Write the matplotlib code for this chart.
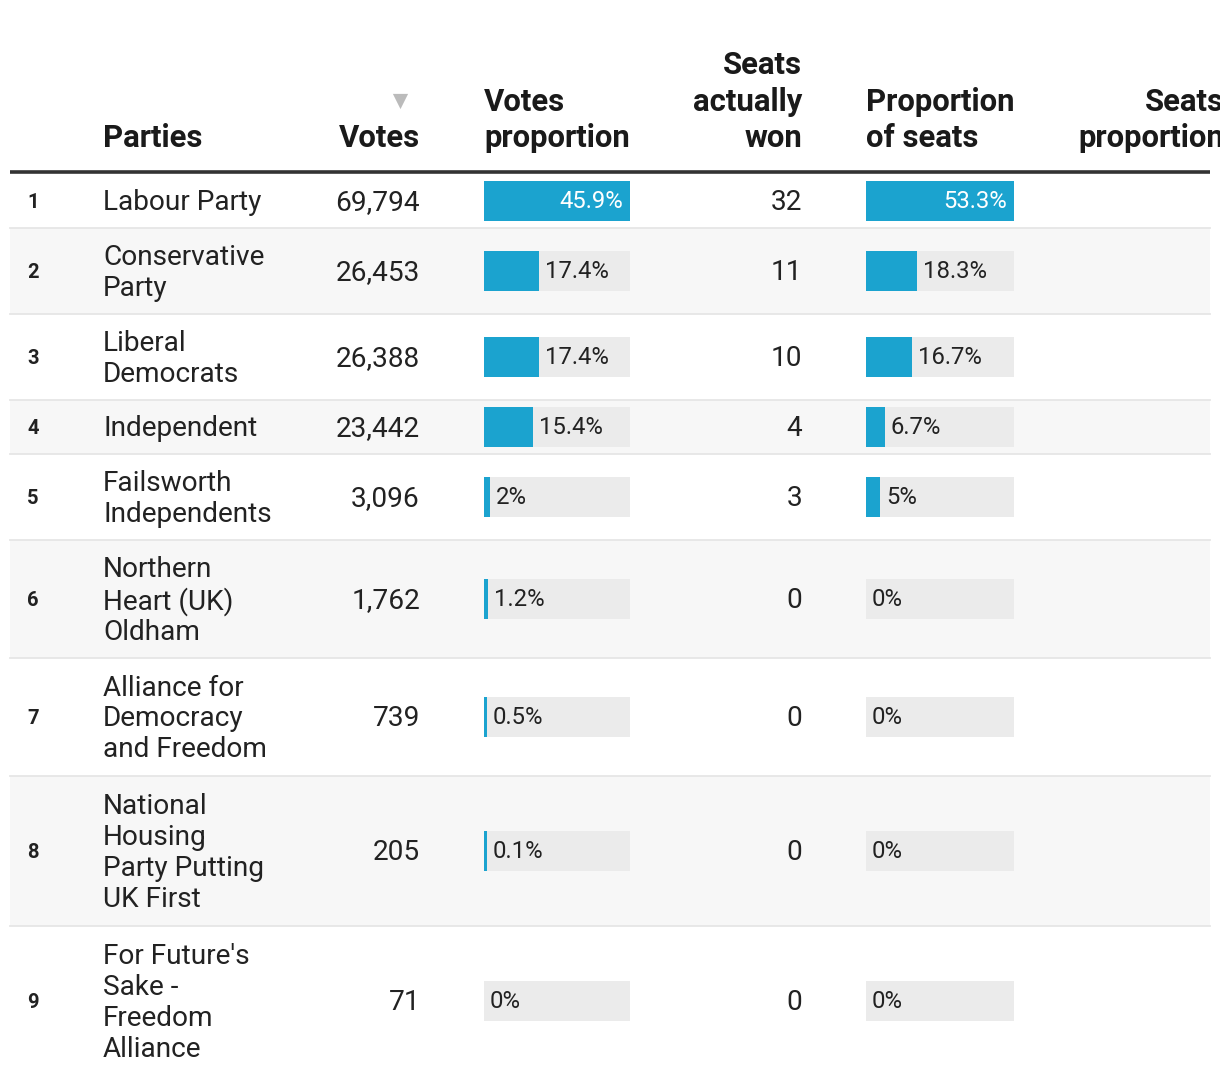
import numpy as np
import matplotlib.pyplot as plt
from matplotlib.patches import Rectangle

plt.rcParams['font.family'] = ['Roboto', 'DejaVu Sans']

# data
ranks = [1, 2, 3, 4, 5, 6, 7, 8, 9]
parties = ['Labour Party', 'Conservative\nParty', 'Liberal\nDemocrats', 'Independent',
           'Failsworth\nIndependents', 'Northern\nHeart (UK)\nOldham',
           'Alliance for\nDemocracy\nand Freedom', 'National\nHousing\nParty Putting\nUK First',
           "For Future's\nSake -\nFreedom\nAlliance"]
votes = [69794, 26453, 26388, 23442, 3096, 1762, 739, 205, 71]
votes_pct = [45.9, 17.4, 17.4, 15.4, 2.0, 1.2, 0.5, 0.1, 0.0]
seats = [32, 11, 10, 4, 3, 0, 0, 0, 0]
seats_pct = [53.3, 18.3, 16.7, 6.7, 5.0, 0.0, 0.0, 0.0, 0.0]
headers = ['Parties', 'Votes', 'Votes\nproportion', 'Seats\nactually\nwon',
           'Proportion\nof seats', 'Seats\nproportion']

W, H = 1220, 1084
fig = plt.figure(figsize=(W/100, H/100), dpi=100)
ax = fig.add_axes([0, 0, 1, 1])
ax.set_xlim(0, W)
ax.set_ylim(H, 0)
ax.axis('off')

BLUE = '#1ba3cf'
TXT = '#222222'
HDR = '#1a1a1a'
x0, x1 = 10, 1210
clip = Rectangle((x0, 0), x1 - x0, H, transform=ax.transData)

# layout of rows
top = 174
heights = [22 + 32 * (p.count('\n') + 1) for p in parties]
edges = top + np.concatenate([[0], np.cumsum(heights)])
centers = (edges[:-1] + edges[1:]) / 2

for i in range(len(parties)):
    if i % 2 == 1:
        ax.add_patch(Rectangle((x0, edges[i]), x1 - x0, heights[i], color='#f7f7f7', lw=0, zorder=0))
    if i < len(parties) - 1:
        ax.plot([x0, x1], [edges[i + 1], edges[i + 1]], color='#e6e6e6', lw=1.3, zorder=1)

# header
hs = 22.4
hl = 1.27
ax.plot([x0, x1], [172, 172], color='#333333', lw=2.6, solid_capstyle='butt', zorder=3)
hy = 153
ax.text(103, hy, headers[0], fontsize=hs, weight='bold', color=HDR, ha='left', va='bottom')
ax.text(420, hy, headers[1], fontsize=hs, weight='bold', color=HDR, ha='right', va='bottom')
ax.text(484, hy, headers[2], fontsize=hs, weight='bold', color=HDR, ha='left', va='bottom',
        linespacing=hl)
ax.text(802, hy, headers[3], fontsize=hs, weight='bold', color=HDR, ha='right', va='bottom',
        multialignment='right', linespacing=hl)
ax.text(866, hy, headers[4], fontsize=hs, weight='bold', color=HDR, ha='left', va='bottom',
        linespacing=hl)
t = ax.text(1224, hy, headers[5], fontsize=hs, weight='bold', color=HDR, ha='right', va='bottom',
            multialignment='right', linespacing=hl)
t.set_clip_path(clip)
ax.scatter([400], [101], marker='v', s=120, color='#bbbbbb', lw=0)

# body
fs = 20.2
dy = 2
for i in range(len(parties)):
    y = centers[i] + dy
    ax.text(27, y, str(ranks[i]), fontsize=14.5, weight='bold', color=TXT, ha='left', va='center')
    ax.text(103, y, parties[i], fontsize=fs, color=TXT, ha='left', va='center', linespacing=1.18)
    ax.text(420, y, f'{votes[i]:,}', fontsize=fs, color=TXT, ha='right', va='center')
    ax.text(802, y, str(seats[i]), fontsize=fs, color=TXT, ha='right', va='center')


def bar_column(vals, left, width):
    vals = np.array(vals)
    w = vals / vals.max() * width
    w = np.where(vals > 0, np.maximum(w, 2.5), 0)
    ax.barh(centers, width, left=left, height=40, color='#ebebeb', lw=0, zorder=2)
    ax.barh(centers, w, left=left, height=40, color=BLUE, lw=0, zorder=3)
    for v, ww, y in zip(vals, w, centers):
        lab = f'{v:.1f}'.rstrip('0').rstrip('.') + '%'
        if ww > width * 0.6:
            ax.text(left + ww - 7, y + 1, lab, fontsize=17.2, color='white', ha='right', va='center', zorder=4)
        else:
            ax.text(left + ww + 6, y + 1, lab, fontsize=17.2, color=TXT, ha='left', va='center', zorder=4)


bar_column(votes_pct, 484, 146)
bar_column(seats_pct, 866, 148)

fig.savefig('out.png', dpi=100, facecolor='white')
